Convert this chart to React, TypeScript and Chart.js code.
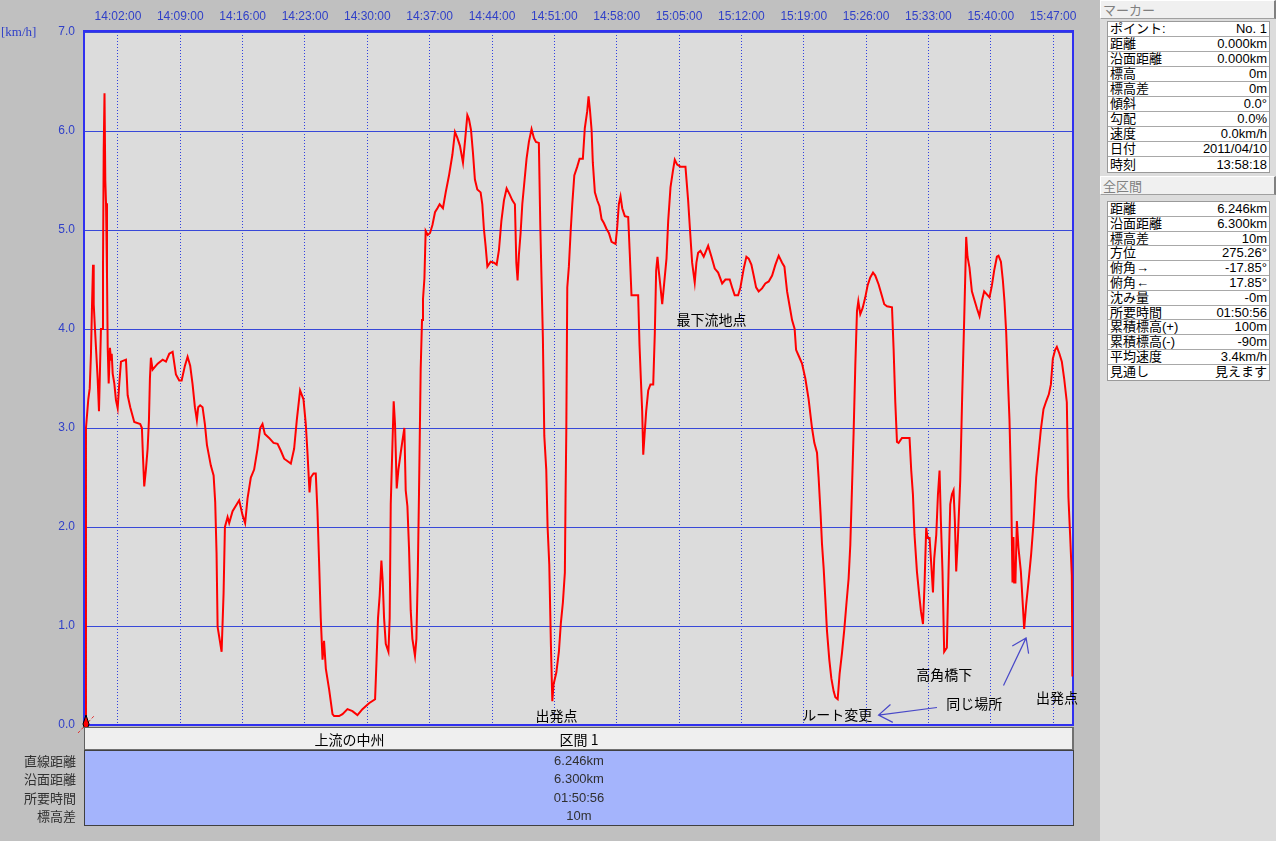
import React, { useEffect, useRef } from 'react';
import { Chart, registerables } from 'chart.js';

Chart.register(...registerables);

// ---------- data ----------
const START_TIME = '13:58:18';
const TOTAL_TIME = '01:50:56';
const X_TICK_LABELS = [
  '14:02:00', '14:09:00', '14:16:00', '14:23:00', '14:30:00', '14:37:00', '14:44:00', '14:51:00',
  '14:58:00', '15:05:00', '15:12:00', '15:19:00', '15:26:00', '15:33:00', '15:40:00', '15:47:00',
];
const Y_MIN = 0;
const Y_MAX = 7;
const Y_UNIT = '[km/h]';

// elapsed minutes from START_TIME
const ELAPSED_MIN = [
  0, 0.11, 0.37, 0.53, 0.67, 0.79, 0.90, 0.98, 1.12, 1.27, 1.42, 1.57, 1.68, 1.79, 1.94, 2.02, 2.10, 2.19, 2.28, 2.36,
  2.47, 2.55, 2.66, 2.80, 2.92, 3.00, 3.11, 3.29, 3.48, 3.67, 3.85, 4.04, 4.60, 4.79, 5.08, 5.53, 6.20, 6.39, 6.51, 6.65,
  6.84, 7.03, 7.18, 7.29, 7.40, 7.59, 8.16, 8.72, 9.09, 9.46, 9.84, 10.21, 10.58, 10.85, 11.22, 11.52, 11.81, 12.08, 12.34, 12.56,
  12.71, 12.93, 13.20, 13.46, 13.69, 14.13, 14.44, 14.62, 14.77, 14.89, 15.34, 15.56, 15.71, 16.01, 16.19, 16.57, 17.31, 17.69, 17.98, 18.25,
  18.62, 18.99, 19.37, 19.67, 19.93, 20.19, 20.67, 21.17, 21.62, 21.99, 22.36, 23.11, 23.48, 23.78, 24.15, 24.53, 24.79, 24.98, 25.21, 25.35,
  25.66, 25.91, 26.10, 26.28, 26.47, 26.67, 26.84, 27.04, 27.41, 27.79, 27.97, 28.53, 28.91, 29.47, 30.03, 30.59, 31.15, 31.89, 32.57, 32.72,
  32.90, 33.09, 33.28, 33.43, 33.58, 33.77, 34.07, 34.21, 34.33, 34.52, 34.66, 34.81, 35.00, 35.19, 35.45, 35.64, 35.86, 36.01, 36.20, 36.38,
  36.57, 36.76, 37.05, 37.21, 37.36, 37.50, 37.69, 37.84, 37.95, 38.11, 38.25, 38.48, 38.74, 39.01, 39.30, 39.57, 39.82, 40.19, 40.50, 40.87,
  41.25, 41.54, 41.81, 42.10, 42.44, 42.66, 42.93, 43.11, 43.34, 43.56, 43.78, 44.05, 44.42, 44.61, 44.79, 44.98, 45.18, 45.55, 45.92, 46.22,
  46.48, 46.75, 47.04, 47.34, 47.68, 47.98, 48.27, 48.43, 48.57, 48.72, 48.91, 49.10, 49.36, 49.58, 49.84, 50.14, 50.40, 50.63, 50.96, 51.12,
  51.27, 51.41, 51.57, 51.79, 51.94, 52.13, 52.31, 52.47, 52.61, 52.92, 53.21, 53.43, 53.66, 53.88, 53.96, 54.04, 54.15, 54.33, 54.52, 54.71,
  54.94, 55.27, 55.53, 55.90, 56.12, 56.39, 56.54, 56.69, 56.88, 57.02, 57.25, 57.51, 57.77, 58.00, 58.26, 58.56, 58.82, 59.12, 59.57, 59.76,
  59.94, 60.13, 60.32, 60.61, 60.99, 61.17, 61.36, 62.11, 62.26, 62.41, 62.56, 62.68, 62.82, 63.01, 63.24, 63.49, 63.80, 63.98, 64.13, 64.28,
  64.42, 64.62, 64.81, 65.03, 65.29, 65.48, 65.74, 66.00, 66.22, 66.49, 66.86, 67.42, 67.72, 67.98, 68.17, 68.46, 68.65, 68.84, 69.10, 69.47,
  69.97, 70.34, 70.71, 71.09, 71.54, 71.91, 72.39, 72.66, 72.95, 73.33, 73.59, 73.96, 74.26, 74.52, 74.82, 75.08, 75.35, 75.64, 76.02, 76.39,
  76.77, 77.15, 77.52, 77.89, 78.27, 78.53, 78.83, 79.12, 79.39, 79.68, 79.84, 80.13, 80.51, 80.88, 81.25, 81.63, 81.89, 82.19, 82.37, 82.60,
  82.75, 82.94, 83.12, 83.31, 83.57, 83.80, 84.06, 84.25, 84.51, 84.73, 85.00, 85.26, 85.48, 85.74, 85.93, 86.12, 86.30, 86.49, 86.68, 86.83,
  87.05, 87.31, 87.61, 87.87, 88.17, 88.48, 88.73, 89.11, 89.49, 89.74, 90.05, 90.61, 90.79, 90.98, 91.17, 91.35, 91.73, 92.58, 92.77, 92.96,
  93.14, 93.41, 93.67, 93.86, 94.09, 94.26, 94.45, 94.60, 94.83, 95.02, 95.21, 95.35, 95.58, 95.77, 95.95, 96.10, 96.28, 96.47, 96.77, 96.96,
  97.15, 97.34, 97.52, 97.67, 97.82, 98.01, 98.27, 98.49, 98.72, 98.86, 98.94, 99.09, 99.31, 99.58, 99.84, 100.14, 100.43, 100.70, 100.96, 101.26,
  101.56, 101.83, 102.08, 102.39, 102.57, 102.84, 103.06, 103.24, 103.43, 103.62, 103.80, 103.99, 104.14, 104.25, 104.33, 104.47, 104.63, 104.81, 105.08, 105.30,
  105.45, 105.67, 105.93, 106.23, 106.49, 106.80, 107.06, 107.32, 107.62, 107.92, 108.22, 108.45, 108.67, 108.93, 109.12, 109.41, 109.68, 109.94, 110.24, 110.42,
  110.61, 110.80, 110.87,
];

// speed in km/h
const SPEED_KMH = [
  0.0, 3.0, 3.29, 3.40, 3.75, 4.25, 4.65, 4.25, 4.0, 3.75, 3.50, 3.17, 3.58, 4.0, 4.0, 4.61, 5.80, 6.38, 5.50, 5.27,
  4.55, 3.81, 3.45, 3.81, 3.69, 3.75, 3.55, 3.45, 3.28, 3.20, 3.45, 3.67, 3.69, 3.33, 3.21, 3.06, 3.04, 3.00, 2.71, 2.41,
  2.58, 2.79, 3.08, 3.50, 3.71, 3.59, 3.65, 3.69, 3.67, 3.75, 3.77, 3.54, 3.48, 3.48, 3.63, 3.72, 3.63, 3.44, 3.21, 3.08,
  3.21, 3.23, 3.21, 3.04, 2.83, 2.62, 2.52, 2.25, 1.74, 0.99, 0.74, 1.33, 2.00, 2.10, 2.04, 2.16, 2.27, 2.12, 2.04, 2.29,
  2.50, 2.58, 2.79, 3.00, 3.04, 2.94, 2.90, 2.85, 2.84, 2.77, 2.69, 2.64, 2.79, 3.08, 3.38, 3.29, 3.04, 2.75, 2.35, 2.50,
  2.54, 2.54, 2.16, 1.66, 1.08, 0.66, 0.85, 0.57, 0.36, 0.11, 0.09, 0.09, 0.11, 0.16, 0.14, 0.10, 0.16, 0.22, 0.26, 0.62,
  1.08, 1.31, 1.66, 1.45, 1.08, 0.82, 0.74, 1.08, 2.23, 2.83, 3.27, 3.04, 2.39, 2.58, 2.75, 2.87, 3.00, 2.37, 2.21, 1.79,
  1.16, 0.87, 0.70, 0.87, 1.50, 2.33, 3.59, 4.09, 4.30, 4.51, 4.99, 4.95, 4.97, 5.05, 5.18, 5.22, 5.26, 5.22, 5.38, 5.55,
  5.76, 5.99, 5.93, 5.85, 5.68, 5.89, 6.16, 6.12, 6.01, 5.78, 5.51, 5.41, 5.38, 5.26, 5.01, 4.84, 4.63, 4.68, 4.67, 4.65,
  4.80, 5.09, 5.30, 5.42, 5.36, 5.30, 5.26, 4.67, 4.49, 4.75, 4.97, 5.26, 5.51, 5.72, 5.89, 6.02, 5.93, 5.89, 5.88, 5.05,
  4.46, 3.92, 2.92, 2.58, 2.00, 1.62, 0.82, 0.24, 0.41, 0.53, 0.74, 1.03, 1.24, 1.54, 2.33, 2.96, 4.42, 4.63, 4.97, 5.26,
  5.55, 5.64, 5.72, 5.72, 6.03, 6.20, 6.35, 6.22, 6.01, 5.68, 5.38, 5.30, 5.24, 5.11, 5.07, 5.01, 4.97, 4.88, 4.86, 5.03,
  5.26, 5.34, 5.22, 5.14, 5.13, 4.76, 4.34, 4.34, 3.84, 3.50, 3.17, 2.73, 2.92, 3.17, 3.38, 3.44, 3.44, 3.96, 4.59, 4.73,
  4.59, 4.42, 4.25, 4.46, 4.71, 5.09, 5.43, 5.59, 5.71, 5.66, 5.64, 5.64, 5.30, 4.93, 4.67, 4.47, 4.67, 4.77, 4.79, 4.73,
  4.84, 4.73, 4.61, 4.57, 4.46, 4.50, 4.50, 4.42, 4.34, 4.34, 4.42, 4.61, 4.73, 4.71, 4.65, 4.54, 4.42, 4.38, 4.41, 4.46,
  4.48, 4.54, 4.65, 4.74, 4.67, 4.63, 4.38, 4.23, 4.09, 4.00, 3.79, 3.73, 3.65, 3.50, 3.29, 3.00, 2.85, 2.75, 2.50, 2.12,
  1.83, 1.58, 1.28, 0.95, 0.66, 0.47, 0.34, 0.28, 0.26, 0.52, 0.73, 0.97, 1.21, 1.48, 1.82, 2.40, 2.95, 3.63, 4.18, 4.28,
  4.15, 4.21, 4.32, 4.44, 4.52, 4.57, 4.54, 4.45, 4.33, 4.25, 4.23, 4.22, 3.80, 3.26, 2.86, 2.85, 2.90, 2.90, 2.57, 2.33,
  1.92, 1.55, 1.31, 1.15, 1.02, 1.41, 1.99, 1.89, 1.89, 1.62, 1.34, 1.68, 1.92, 2.33, 2.57, 2.06, 1.55, 0.74, 0.78, 1.55,
  2.23, 2.33, 2.37, 2.06, 1.55, 1.89, 2.47, 3.32, 4.11, 4.62, 4.93, 4.73, 4.62, 4.38, 4.30, 4.21, 4.13, 4.28, 4.38, 4.35,
  4.32, 4.44, 4.59, 4.73, 4.74, 4.68, 4.49, 4.28, 3.97, 3.50, 3.09, 2.37, 1.44, 1.90, 1.44, 1.44, 2.06, 1.79, 1.55, 1.21,
  0.97, 1.21, 1.44, 1.72, 2.03, 2.50, 2.74, 2.98, 3.19, 3.27, 3.34, 3.44, 3.70, 3.79, 3.82, 3.75, 3.67, 3.50, 3.26, 2.30,
  1.92, 1.51, 0.49,
];

// chart annotations (data coordinates: elapsed minutes, km/h)
const NOTE_TEXTS = ['出発点', '最下流地点', 'ルート変更', '高角橋下', '同じ場所', '出発点'];
const NOTE_MIN = [52.95, 70.34, 84.47, 96.47, 99.84, 109.15];
const NOTE_KMH = [0.09, 4.09, 0.10, 0.51, 0.22, 0.28];

const ARROW_FROM_MIN = [95.66, 103.13];
const ARROW_FROM_KMH = [0.177, 0.40];
const ARROW_TO_MIN = [89.10, 105.67];
const ARROW_TO_KMH = [0.10, 0.88];

// section table under the chart
const SECTION_MARK = '上流の中州';
const SECTION_MARK_MIN = 29.7;
const SECTION_TITLE = '区間 1';
const SECTION_ROW_LABELS = ['直線距離', '沿面距離', '所要時間', '標高差'];
const SECTION_ROW_VALUES = ['6.246km', '6.300km', '01:50:56', '10m'];

// side panels
const MARKER_TITLE = 'マーカー';
const MARKER_LABELS = ['ポイント:', '距離', '沿面距離', '標高', '標高差', '傾斜', '勾配', '速度', '日付', '時刻'];
const MARKER_VALUES = ['No. 1', '0.000km', '0.000km', '0m', '0m', '0.0°', '0.0%', '0.0km/h', '2011/04/10', '13:58:18'];
const TOTAL_TITLE = '全区間';
const TOTAL_LABELS = ['距離', '沿面距離', '標高差', '方位', '俯角→', '俯角←', '沈み量', '所要時間', '累積標高(+)', '累積標高(-)', '平均速度', '見通し'];
const TOTAL_VALUES = ['6.246km', '6.300km', '10m', '275.26°', '-17.85°', '17.85°', '-0m', '01:50:56', '100m', '-90m', '3.4km/h', '見えます'];

// ---------- helpers ----------
const toSec = (s: string) => {
  const [h, m, sec] = s.split(':').map(Number);
  return h * 3600 + m * 60 + sec;
};
const TOTAL_MIN = toSec(TOTAL_TIME) / 60;
const TICK_MIN = X_TICK_LABELS.map((l) => (toSec(l) - toSec(START_TIME)) / 60);

const FONT_LATIN = '"Liberation Sans", "Noto Sans CJK JP", sans-serif';
const FONT_JP = '"Noto Sans CJK JP", "Liberation Sans", sans-serif';
const AXIS_BLUE = '#3040c8';
const GRID_BLUE = '#3848d8';
const FRAME_BLUE = '#3030f0';

function SidePanelTable({ top, labels, values, rowH }: { top: number; labels: string[]; values: string[]; rowH: number }) {
  return (
    <div
      style={{
        position: 'absolute', left: 1107, top, width: 163, background: '#ffffff',
        border: '1px solid #9a9a9a', boxSizing: 'border-box',
      }}
    >
      {labels.map((l, i) => (
        <div
          key={i}
          style={{
            height: rowH, boxSizing: 'border-box', display: 'flex', justifyContent: 'space-between',
            alignItems: 'center', padding: '0 2px 0 2px', fontSize: 13, lineHeight: `${rowH - 1}px`,
            color: '#000', borderBottom: i < labels.length - 1 ? '1px solid #a8a8a8' : 'none',
            whiteSpace: 'nowrap',
          }}
        >
          <span>{l}</span>
          <span>{values[i]}</span>
        </div>
      ))}
    </div>
  );
}

function PanelHeader({ top, text }: { top: number; text: string }) {
  return (
    <div
      style={{
        position: 'absolute', left: 1100, top, width: 176, height: 19, boxSizing: 'border-box',
        background: '#f0f0f0', borderTop: '1px solid #ffffff', borderLeft: '1px solid #ffffff',
        borderRight: '2px solid #808080', borderBottom: '1px solid #a0a0a0',
        fontSize: 13, lineHeight: '17px', color: '#808080', paddingLeft: 2, fontFamily: FONT_JP,
      }}
    >
      {text}
    </div>
  );
}

export default function App() {
  const canvasRef = useRef<HTMLCanvasElement>(null);

  useEffect(() => {
    let chart: Chart | null = null;
    let cancelled = false;

    const plotBg = {
      id: 'plotBg',
      beforeDraw(c: any) {
        const { ctx, chartArea } = c;
        ctx.save();
        ctx.fillStyle = '#dcdcdc';
        ctx.fillRect(chartArea.left, chartArea.top, chartArea.right - chartArea.left, chartArea.bottom - chartArea.top);
        ctx.restore();
      },
    };

    const frame = {
      id: 'frame',
      beforeDatasetsDraw(c: any) {
        const { ctx, chartArea } = c;
        ctx.save();
        ctx.strokeStyle = FRAME_BLUE;
        ctx.lineWidth = 2;
        ctx.strokeRect(chartArea.left - 1, chartArea.top - 1, chartArea.right - chartArea.left + 1, chartArea.bottom - chartArea.top + 1);
        ctx.restore();
      },
      afterDraw(c: any) {
        const { ctx, chartArea } = c;
        ctx.save();
        ctx.fillStyle = AXIS_BLUE;
        ctx.font = '13px "Liberation Serif", serif';
        ctx.textAlign = 'left';
        ctx.textBaseline = 'middle';
        ctx.fillText(Y_UNIT, 1, chartArea.top + 1);
        ctx.restore();
      },
    };

    const notes = {
      id: 'notes',
      afterDatasetsDraw(c: any) {
        const { ctx } = c;
        const xs = c.scales.x;
        const ys = c.scales.y;
        ctx.save();
        // start marker
        const sx = xs.getPixelForValue(ELAPSED_MIN[0]);
        const sy = ys.getPixelForValue(SPEED_KMH[0]);
        ctx.strokeStyle = '#e03030';
        ctx.lineWidth = 1;
        ctx.setLineDash([3, 2]);
        ctx.beginPath();
        ctx.moveTo(sx - 7, sy + 8);
        ctx.lineTo(sx + 9, sy - 9);
        ctx.stroke();
        ctx.setLineDash([]);
        ctx.beginPath();
        ctx.moveTo(sx + 1, sy - 10);
        ctx.lineTo(sx + 4, sy - 1);
        ctx.lineTo(sx + 1, sy + 8);
        ctx.lineTo(sx - 2, sy - 1);
        ctx.closePath();
        ctx.fillStyle = '#ff0000';
        ctx.fill();
        ctx.strokeStyle = '#000';
        ctx.stroke();

        // text notes
        ctx.fillStyle = '#000';
        ctx.font = `14px ${FONT_JP}`;
        ctx.textAlign = 'center';
        ctx.textBaseline = 'middle';
        NOTE_TEXTS.forEach((t, i) => {
          ctx.fillText(t, xs.getPixelForValue(NOTE_MIN[i]), ys.getPixelForValue(NOTE_KMH[i]));
        });

        // arrows
        ctx.strokeStyle = '#4848c8';
        ctx.lineWidth = 1.2;
        ARROW_FROM_MIN.forEach((_, i) => {
          const x0 = xs.getPixelForValue(ARROW_FROM_MIN[i]);
          const y0 = ys.getPixelForValue(ARROW_FROM_KMH[i]);
          const x1 = xs.getPixelForValue(ARROW_TO_MIN[i]);
          const y1 = ys.getPixelForValue(ARROW_TO_KMH[i]);
          const ang = Math.atan2(y0 - y1, x0 - x1);
          const len = 16;
          const spread = 0.6;
          ctx.beginPath();
          ctx.moveTo(x0, y0);
          ctx.lineTo(x1, y1);
          ctx.moveTo(x1 + len * Math.cos(ang + spread), y1 + len * Math.sin(ang + spread));
          ctx.lineTo(x1, y1);
          ctx.lineTo(x1 + len * Math.cos(ang - spread), y1 + len * Math.sin(ang - spread));
          ctx.stroke();
        });
        ctx.restore();
      },
    };

    const make = () => {
      if (cancelled || !canvasRef.current) return;
      chart = new Chart(canvasRef.current, {
        type: 'line',
        data: {
          datasets: [
            {
              data: ELAPSED_MIN.map((t, i) => ({ x: t, y: SPEED_KMH[i] })),
              borderColor: '#ff0000',
              borderWidth: 2,
              pointRadius: 0,
              tension: 0,
              fill: false,
            },
          ],
        },
        options: {
          responsive: false,
          animation: false,
          layout: { padding: { left: 0, top: 0, right: 27, bottom: 116 } },
          plugins: { legend: { display: false }, tooltip: { enabled: false } },
          scales: {
            x: {
              type: 'linear',
              position: 'top',
              min: 0,
              max: TOTAL_MIN,
              afterBuildTicks: (s: any) => {
                s.ticks = TICK_MIN.map((v) => ({ value: v }));
              },
              afterFit: (s: any) => {
                s.height = 32;
              },
              ticks: {
                autoSkip: false,
                maxRotation: 0,
                color: AXIS_BLUE,
                font: { family: FONT_LATIN, size: 12 },
                padding: 8,
                callback: (_v: any, i: number) => X_TICK_LABELS[i],
              },
              grid: { color: '#3040e0', lineWidth: 1, drawTicks: false },
              border: { display: false, dash: [1, 2] },
            },
            y: {
              min: Y_MIN,
              max: Y_MAX,
              afterFit: (s: any) => {
                s.width = 85;
              },
              ticks: {
                stepSize: 1,
                color: AXIS_BLUE,
                font: { family: FONT_LATIN, size: 12 },
                padding: 10,
                callback: (v: any) => Number(v).toFixed(1),
              },
              grid: { color: GRID_BLUE, lineWidth: 1, drawTicks: false },
              border: { display: false },
            },
          },
        },
        plugins: [plotBg, frame, notes],
      } as any);
    };

    const fonts: any = (document as any).fonts;
    const ready = fonts
      ? Promise.all([
          fonts.load(`14px "Noto Sans CJK JP"`, '出発点'),
          fonts.load(`12px "Liberation Sans"`),
          fonts.load(`13px "Liberation Serif"`),
        ]).catch(() => undefined)
      : Promise.resolve();
    ready.then(make);

    return () => {
      cancelled = true;
      if (chart) chart.destroy();
    };
  }, []);

  // x pixel of section mark (chart area 85..1073 spans 0..TOTAL_MIN)
  const markX = 85 + (SECTION_MARK_MIN / TOTAL_MIN) * 988;
  const rowH = 18.3;

  return (
    <div
      style={{
        position: 'absolute', left: 0, top: 0, width: 1276, height: 841, background: '#c0c0c0',
        overflow: 'hidden', fontFamily: FONT_LATIN,
      }}
    >
      <canvas ref={canvasRef} width={1100} height={841} style={{ position: 'absolute', left: 0, top: 0 }} />

      {/* section header */}
      <div
        style={{
          position: 'absolute', left: 84, top: 727, width: 990, height: 24, boxSizing: 'border-box',
          background: '#efefef', borderTop: '1px solid #606060', borderLeft: '1px solid #606060',
          borderRight: '2px solid #707070', borderBottom: '2px solid #707070',
        }}
      />
      <div
        style={{
          position: 'absolute', left: markX - 84, top: 729, width: 168, textAlign: 'center',
          fontSize: 14, lineHeight: '20px', color: '#000', fontFamily: FONT_JP,
        }}
      >
        {SECTION_MARK}
      </div>
      <div
        style={{
          position: 'absolute', left: 84, top: 729, width: 990, textAlign: 'center',
          fontSize: 14, lineHeight: '20px', color: '#000', fontFamily: FONT_JP,
        }}
      >
        {SECTION_TITLE}
      </div>

      {/* section values */}
      <div
        style={{
          position: 'absolute', left: 84, top: 750, width: 990, height: 76, boxSizing: 'border-box',
          background: '#a4b4fc', border: '1px solid #404040', paddingTop: 1,
        }}
      >
        {SECTION_ROW_VALUES.map((v, i) => (
          <div key={i} style={{ height: rowH, lineHeight: `${rowH}px`, textAlign: 'center', fontSize: 13, color: '#303030' }}>
            {v}
          </div>
        ))}
      </div>
      <div style={{ position: 'absolute', left: 0, top: 752, width: 76 }}>
        {SECTION_ROW_LABELS.map((l, i) => (
          <div
            key={i}
            style={{ height: rowH, lineHeight: `${rowH}px`, textAlign: 'right', fontSize: 13, color: '#303030', fontFamily: FONT_JP }}
          >
            {l}
          </div>
        ))}
      </div>

      {/* right panel */}
      <div style={{ position: 'absolute', left: 1100, top: 0, width: 176, height: 841, background: '#dcdcdc' }} />
      <PanelHeader top={0} text={MARKER_TITLE} />
      <SidePanelTable top={21} labels={MARKER_LABELS} values={MARKER_VALUES} rowH={15} />
      <PanelHeader top={176} text={TOTAL_TITLE} />
      <SidePanelTable top={201} labels={TOTAL_LABELS} values={TOTAL_VALUES} rowH={14.8} />
    </div>
  );
}
